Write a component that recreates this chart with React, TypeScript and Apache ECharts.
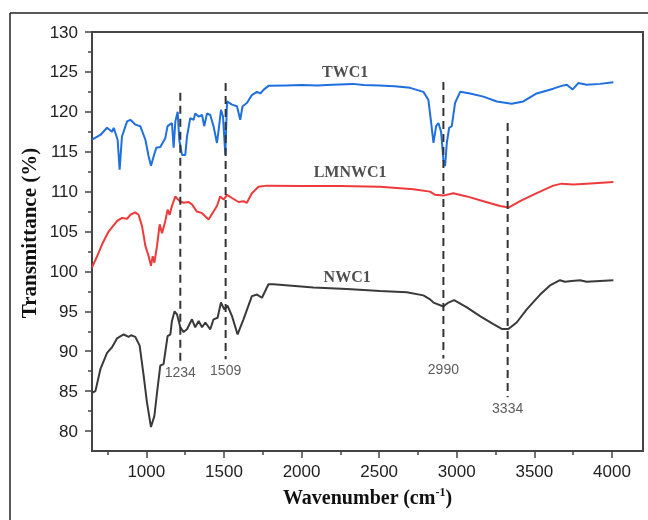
import React, { useEffect, useRef } from "react";
import * as echarts from "echarts";

// ---- data ----
const seriesNames = ["TWC1", "LMNWC1", "NWC1"];

const twcWave = [650, 704, 747, 779, 790, 815, 828, 843, 876, 897, 929, 961, 994, 1015, 1030, 1047, 1064, 1090, 1122, 1137, 1165, 1176, 1187, 1202, 1212, 1230, 1251, 1262, 1283, 1305, 1315, 1337, 1359, 1373, 1391, 1412, 1433, 1455, 1466, 1481, 1494, 1509, 1520, 1552, 1584, 1605, 1620, 1648, 1680, 1713, 1734, 1755, 1787, 1900, 2000, 2100, 2200, 2330, 2400, 2500, 2600, 2700, 2785, 2817, 2833, 2850, 2867, 2882, 2899, 2914, 2925, 2936, 2951, 2968, 2989, 3022, 3086, 3172, 3258, 3354, 3429, 3515, 3622, 3676, 3709, 3747, 3783, 3837, 3923, 4009];
const twcT = [116.5, 117.1, 118.0, 117.5, 118.0, 116.5, 112.75, 116.9, 118.8, 119.0, 118.4, 118.2, 116.5, 114.4, 113.25, 114.4, 115.5, 115.6, 116.7, 118.2, 118.6, 115.5, 118.8, 120.0, 116.5, 114.6, 114.6, 116.9, 119.2, 119.0, 119.8, 119.4, 119.6, 118.2, 119.8, 119.6, 118.2, 116.1, 117.75, 120.25, 119.4, 114.6, 121.3, 120.9, 120.7, 119.0, 120.7, 121.1, 122.1, 122.5, 122.3, 122.75, 123.25, 123.3, 123.35, 123.3, 123.4, 123.5, 123.35, 123.3, 123.2, 123.0, 122.5, 121.5, 119.0, 116.1, 118.2, 118.6, 117.5, 114.0, 113.2, 116.1, 118.0, 118.2, 121.1, 122.5, 122.3, 121.9, 121.3, 121.0, 121.3, 122.3, 122.9, 123.25, 123.4, 122.8, 123.6, 123.4, 123.5, 123.7];

const lmnWave = [650, 683, 715, 757, 811, 843, 876, 897, 929, 950, 972, 994, 1015, 1030, 1041, 1052, 1069, 1086, 1101, 1122, 1137, 1150, 1165, 1187, 1214, 1240, 1272, 1294, 1326, 1359, 1401, 1433, 1455, 1476, 1498, 1520, 1552, 1594, 1626, 1648, 1680, 1723, 1777, 2000, 2250, 2506, 2721, 2828, 2861, 2914, 2978, 3065, 3172, 3279, 3333, 3408, 3515, 3622, 3676, 3751, 3837, 4009];
const lmnT = [100.5, 101.9, 103.4, 105.0, 106.3, 106.7, 106.6, 107.1, 107.4, 107.1, 105.7, 103.2, 101.9, 100.7, 101.9, 101.1, 103.2, 105.9, 104.8, 106.3, 107.75, 107.1, 108.2, 109.4, 108.8, 108.6, 108.7, 108.4, 107.5, 107.3, 106.5, 107.5, 108.2, 109.4, 109.0, 109.6, 109.2, 108.7, 108.8, 108.6, 109.8, 110.6, 110.75, 110.7, 110.7, 110.6, 110.3, 110.0, 109.6, 109.5, 109.8, 109.4, 108.8, 108.2, 108.0, 108.8, 109.8, 110.75, 111.0, 110.9, 111.0, 111.2];

const nwcWave = [650, 672, 704, 747, 779, 811, 854, 886, 901, 929, 957, 983, 1004, 1030, 1052, 1069, 1090, 1111, 1137, 1155, 1165, 1182, 1198, 1219, 1240, 1262, 1294, 1315, 1337, 1359, 1380, 1412, 1433, 1459, 1481, 1502, 1523, 1552, 1588, 1626, 1680, 1713, 1745, 1787, 1819, 2077, 2292, 2506, 2678, 2785, 2828, 2850, 2914, 2946, 2983, 3065, 3150, 3236, 3290, 3333, 3386, 3451, 3537, 3601, 3665, 3697, 3741, 3794, 3837, 3923, 4009];
const nwcT = [84.8, 85.0, 87.75, 89.8, 90.5, 91.6, 92.1, 91.8, 92.0, 91.8, 90.7, 86.9, 83.6, 80.5, 81.9, 84.8, 88.2, 88.4, 91.9, 92.1, 93.8, 95.0, 94.6, 93.0, 92.4, 92.75, 94.0, 93.0, 93.8, 93.0, 93.6, 92.75, 94.0, 94.2, 96.1, 95.25, 95.7, 94.4, 92.1, 94.0, 96.9, 97.1, 96.7, 98.4, 98.4, 98.0, 97.8, 97.55, 97.4, 97.0, 96.5, 96.1, 95.6, 96.1, 96.4, 95.5, 94.4, 93.4, 92.8, 92.8, 93.6, 95.25, 97.1, 98.25, 98.9, 98.7, 98.8, 98.9, 98.7, 98.8, 98.9];

// marked bands: label text, drawn wavenumber, dashed line top / bottom (transmittance)
const peakLabels = ["1234", "1509", "2990", "3334"];
const peakWave = [1219, 1511, 2914, 3328];
const peakTop = [122.4, 123.6, 123.75, 118.6];
const peakBottom = [88.75, 89.0, 89.1, 84.25];

const xMajorTicks = [1000, 1500, 2000, 2500, 3000, 3500, 4000];
const xMinorTicks = [750, 1250, 1750, 2250, 2750, 3250, 3750];
const yMajorTicks = [80, 85, 90, 95, 100, 105, 110, 115, 120, 125, 130];
const yMinorTicks = [82.5, 87.5, 92.5, 97.5, 102.5, 107.5, 112.5, 117.5, 122.5, 127.5];

const seriesColors = ["#1f6fdf", "#ee3a3a", "#3a3a3a"];

const zip = (a: number[], b: number[]) => a.map((v, i) => [v, b[i]]);

export default function App() {
  const ref = useRef<HTMLDivElement>(null);
  useEffect(() => {
    if (!ref.current) return;
    const chart = echarts.init(ref.current, undefined, { renderer: "svg" });
    const axisColor = "#444";
    const tickFont = { fontFamily: "Liberation Sans, Arial, sans-serif", fontSize: 17, color: "#222" };
    const serif = "Liberation Serif, 'Times New Roman', serif";

    const spectra = [zip(twcWave, twcT), zip(lmnWave, lmnT), zip(nwcWave, nwcT)];
    const nameAnchors = [[2281, 125.1], [2313, 112.5], [2294, 99.4]];

    const series: any[] = spectra.map((d, i) => ({
      type: "line",
      name: seriesNames[i],
      data: d,
      showSymbol: false,
      symbol: "none",
      lineStyle: { color: seriesColors[i], width: 2 },
      z: 3,
    }));

    peakWave.forEach((w, i) => {
      series.push({
        type: "line",
        data: [[w, peakTop[i]], [w, peakBottom[i]]],
        symbol: "none",
        lineStyle: { color: "#333", width: 2, type: [8, 5] },
        z: 4,
      });
    });

    series.push({
      type: "scatter",
      symbolSize: 0,
      data: peakWave.map((w, i) => ({ name: peakLabels[i], value: [w, peakBottom[i]] })),
      label: {
        show: true,
        position: "bottom",
        distance: 4,
        formatter: "{b}",
        fontFamily: "Liberation Sans, Arial, sans-serif",
        fontSize: 14,
        color: "#333",
      },
      z: 5,
    });

    series.push({
      type: "scatter",
      symbolSize: 0,
      data: seriesNames.map((n, i) => ({ name: n, value: nameAnchors[i] })),
      label: {
        show: true,
        position: "inside",
        formatter: "{b}",
        fontFamily: serif,
        fontWeight: "bold",
        fontSize: 16,
        color: "#222",
      },
      z: 5,
    });

    chart.setOption({
      animation: false,
      grid: { left: 92, right: 5, top: 32, bottom: 69, show: true, borderColor: axisColor, borderWidth: 2 },
      xAxis: [
        {
          type: "value",
          min: 650,
          max: 4200,
          axisLine: { show: true, onZero: false, lineStyle: { color: axisColor, width: 2 } },
          axisTick: { show: true, customValues: xMajorTicks, length: 7, lineStyle: { color: axisColor, width: 1.5 } },
          axisLabel: { customValues: xMajorTicks, margin: 12, formatter: (v: number) => String(v), ...tickFont },
          splitLine: { show: false },
          name: "{b|Wavenumber (cm}{s|-1}{b|)}",
          nameLocation: "middle",
          nameGap: 34,
          nameTextStyle: {
            rich: {
              b: { fontFamily: serif, fontWeight: "bold", fontSize: 20, color: "#111", lineHeight: 24 },
              s: { fontFamily: serif, fontWeight: "bold", fontSize: 12, color: "#111", padding: [0, 0, 10, 0] },
            },
          },
        },
        {
          type: "value",
          min: 650,
          max: 4200,
          position: "bottom",
          axisLine: { show: false },
          axisTick: { show: true, customValues: xMinorTicks, length: 4, lineStyle: { color: axisColor, width: 1.5 } },
          axisLabel: { show: false },
          splitLine: { show: false },
        },
      ],
      yAxis: [
        {
          type: "value",
          min: 77.5,
          max: 130,
          axisLine: { show: true, onZero: false, lineStyle: { color: axisColor, width: 2 } },
          axisTick: { show: true, customValues: yMajorTicks, length: 7, lineStyle: { color: axisColor, width: 1.5 } },
          axisLabel: { customValues: yMajorTicks, margin: 14, formatter: (v: number) => String(v), ...tickFont },
          splitLine: { show: false },
        },
        {
          type: "value",
          min: 77.5,
          max: 130,
          position: "left",
          axisLine: { show: false },
          axisTick: { show: true, customValues: yMinorTicks, length: 4, lineStyle: { color: axisColor, width: 1.5 } },
          axisLabel: { show: false },
          splitLine: { show: false },
        },
      ],
      graphic: [
        { type: "line", shape: { x1: 10, y1: 13, x2: 648, y2: 13 }, style: { stroke: "#222", lineWidth: 1.5 } },
        { type: "line", shape: { x1: 10, y1: 13, x2: 10, y2: 520 }, style: { stroke: "#222", lineWidth: 1.5 } },
        {
          type: "text",
          x: 29,
          y: 233,
          rotation: Math.PI / 2,
          style: {
            text: "Transmittance (%)",
            fontFamily: serif,
            fontWeight: "bold",
            fontSize: 21,
            fill: "#111",
            align: "center",
            verticalAlign: "middle",
          },
        },
      ],
      series,
    });
    return () => chart.dispose();
  }, []);
  return <div ref={ref} style={{ position: "fixed", left: 0, top: 0, width: 648, height: 520 }} />;
}
